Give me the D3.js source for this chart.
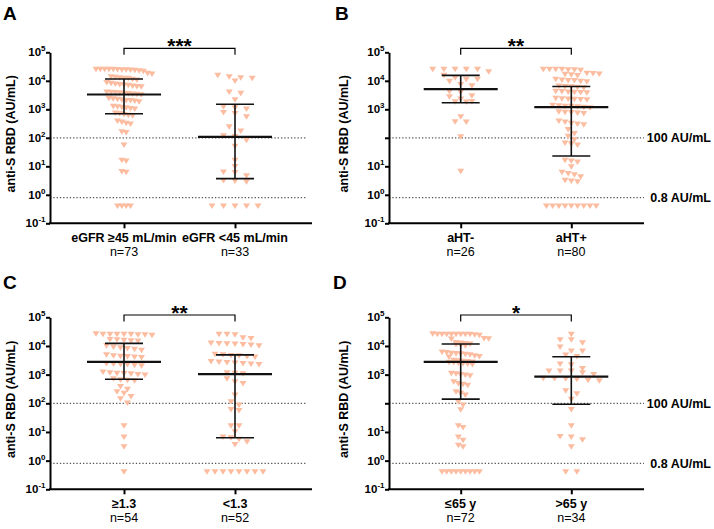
<!DOCTYPE html>
<html><head><meta charset="utf-8">
<script src="https://cdn.jsdelivr.net/npm/d3@7"></script>
<style>
body{margin:0;background:#fff}
svg text{font-family:Arial,"Liberation Sans",Helvetica,sans-serif}
</style>
</head><body>
<svg id="chart" width="714" height="529"></svg>
<script>
// ---------------- DATA ----------------
const panelLetters = ["A", "B", "C", "D"];
const categoriesA = ["eGFR \u226545 mL/min", "eGFR <45 mL/min"];
const categoriesB = ["aHT-", "aHT+"];
const categoriesC = ["\u22651.3", "<1.3"];
const categoriesD = ["\u226465 y", ">65 y"];
const nLabelsA = ["n=73", "n=33"];
const nLabelsB = ["n=26", "n=80"];
const nLabelsC = ["n=54", "n=52"];
const nLabelsD = ["n=72", "n=34"];
const starLabels = ["***", "**", "**", "*"];
const yTitle = "anti-S RBD (AU/mL)";
const yTickValues = [1e5, 1e4, 1e3, 1e2, 1e1, 1e0, 1e-1];
const yTickExponents = ["5", "4", "3", "2", "1", "0", "-1"];
const thresholdValues = [100, 0.8];
const thresholdLabels = ["100 AU/mL", "0.8 AU/mL"];

// anti-S RBD values (AU/mL) per group
const groupA1 = [25000,25000,24000,25000,23000,25000,24500,22000,25000,23500,24000,21000,
  18000,17000,13000,12500,12000,11000,13500,10500,12000,
  7500,7000,8000,6500,6800,7200,6000,8500,6200,
  3800,3600,3400,3500,3300,4000,3200,3700,3900,
  2200,2000,1900,2100,2300,1800,2000,2400,
  1200,1100,1150,1050,1250,1000,
  700,650,600,720,580, 350,320,300,380, 160,150, 55, 16,15, 6.5,6, 0.4,0.4,0.4,0.4];
const groupA2 = [15500,12000,13500,9600,12600,3550,4000,2100,1200,1120,1000,700,750,540,
  240,170,115,108,81,50,16,9.6,6.2,5.9,4.6,3.0,3.1,2.8,0.4,0.4,0.4,0.4,0.4];
const groupB1 = [25000,25000,25000,25000,25000,20500,15500,11200,11000,9500,12600,6600,7200,
  3900,4100,2950,2700,2240,1850,1800,1750,540,360,350,107,6.6];
const groupB2 = [25000,25000,24000,25000,23000,25000,24000,
  17500,16000,18000,15000,17000,16500,
  10500,10000,9500,11000,9000,10000,
  6200,5800,6500,5600,6000,
  4200,3900,4000,3700,4100,3800,
  2300,2200,2100,2400,2250,2150,
  1300,1250,1200,1150,1100,1250,1350,
  780,750,700,800,720, 350,300,320,280,380, 190,140,112,85, 65,60,55,
  15,14,16, 9.5, 6,5.5,5, 3,2.8,3.2,4.2,
  0.4,0.4,0.4,0.4,0.4,0.4,0.4,0.4,0.4];
const groupC1 = [25000,25000,24000,25000,23000,25000,24000,25000,26000,
  16000,15500,16500,15000,14500,
  10000,8000,9000,7500,7000,8500,
  4500,4000,4200,3900,4800,4300,
  2400,2300,2200,2100,2000,2250,
  1100,1050,1000,1150,1200,950,1080,
  700,650,620,600, 380,300,250,220, 170,140,100, 16, 6.6, 3.0, 0.4];
const groupC2 = [25000,24000,25000, 19000,18000,
  11000,12000,10000,11500,10500,12500,11800,
  4500,4200,5000,4000,4600,4800,
  2700,2500,2800,2300,2200,2400,2600,
  1150,1100,1050, 700,550,480, 190,112,85, 60,55, 16,16,10,
  6.5,4.5,3.6,5.5,6.2,
  0.4,0.4,0.4,0.4,0.4,0.4,0.4,0.4];
const groupD1 = [25000,25000,25000,25000,25000,25000,25000,25000,24000,23000,26000,
  18000,17000,17500,
  12000,11000,13000,10000,11500,10500,12500,
  6000,5500,5000,4500,5200,4800,5800,4200,4000,5300,
  3000,2800,2600,2500,2700,2900,3100,2400,2300,2200,2650,
  1100,1000,950,900,1050, 550,480,450,420, 250,220,190, 110,85,58, 16,14,
  6.6,5,3.4,3, 0.4,0.4,0.4,0.4,0.4,0.4,0.4,0.4,0.4];
const groupD2 = [25000,16000,16000,12600,9100,6500,6500,4200,4700,2300,2150,1600,1300,1150,
  1300,1300,1000,740,700,720,620,680,600,210,270,135,60,16,6.5,6.8,5.2,3.0,0.4,0.4];

// median with interquartile range (AU/mL)
const mediansA = [3300, 107];   const lowerA = [700, 3.7];   const upperA = [11500, 1500];
const mediansB = [5100, 1200];  const lowerB = [1700, 23];   const upperB = [15500, 6300];
const mediansC = [2800, 1050];  const lowerC = [690, 6.3];   const upperC = [12300, 4900];
const mediansD = [2800, 850];   const lowerD = [140, 93];    const upperD = [11700, 4200];

// ---------------- LAYOUT ----------------
const panels = [
  {cats: categoriesA, ns: nLabelsA, groups: [groupA1, groupA2], med: mediansA, lo: lowerA, hi: upperA,
   ax: 50, cx: [124, 235], xEnd: 312, dotEnd: 306, yTop: 52.3, yBot: 223.3,
   letterX: 3, letterY: 20, titleX: 15, bracketY: 48.3, right: false},
  {cats: categoriesB, ns: nLabelsB, groups: [groupB1, groupB2], med: mediansB, lo: lowerB, hi: upperB,
   ax: 389, cx: [460.7, 571.3], xEnd: 644, dotEnd: 644, yTop: 52.3, yBot: 223.3,
   letterX: 335, letterY: 20, titleX: 348, bracketY: 48.3, right: true},
  {cats: categoriesC, ns: nLabelsC, groups: [groupC1, groupC2], med: mediansC, lo: lowerC, hi: upperC,
   ax: 50, cx: [124, 235], xEnd: 312, dotEnd: 306, yTop: 317.3, yBot: 489.3,
   letterX: 3, letterY: 289, titleX: 15, bracketY: 315, right: false},
  {cats: categoriesD, ns: nLabelsD, groups: [groupD1, groupD2], med: mediansD, lo: lowerD, hi: upperD,
   ax: 389, cx: [460.7, 571.3], xEnd: 644, dotEnd: 644, yTop: 317.3, yBot: 489.3,
   letterX: 333, letterY: 289, titleX: 348, bracketY: 315, right: true}
];

const svg = d3.select("#chart");
const dotColor = "#fcbca0";
const triW = 7, triH = 5.5;

function swarm(values, y, maxHalf, maxSpacing, binH) {
  const pts = values.map(v => ({v: v, y: y(v)})).sort((a, b) => a.y - b.y);
  const bins = [];
  let cur = null;
  pts.forEach(p => {
    if (!cur || p.y - cur.y0 > binH) { cur = {y0: p.y, items: []}; bins.push(cur); }
    cur.items.push(p);
  });
  const maxN = d3.max(bins, b => b.items.length);
  const sp = maxN > 1 ? Math.min(maxSpacing, 2 * maxHalf / (maxN - 1)) : maxSpacing;
  bins.forEach(b => {
    const n = b.items.length;
    b.items.forEach((p, i) => { p.dx = (i - (n - 1) / 2) * sp; });
  });
  return pts;
}

panels.forEach((P, pi) => {
  const g = svg.append("g");
  const y = d3.scaleLog().domain([0.1, 1e5]).range([P.yBot, P.yTop]);
  const x = d3.scalePoint().domain(P.cats).range(P.cx);

  // panel letter
  g.append("text").attr("x", P.letterX).attr("y", P.letterY)
    .attr("font-size", 19).attr("font-weight", "bold").text(panelLetters[pi]);

  // y title
  const yc = (P.yTop + P.yBot) / 2 - 4;
  g.append("text").attr("transform", `translate(${P.titleX},${yc}) rotate(-90)`)
    .attr("text-anchor", "middle").attr("font-size", 12.5).attr("font-weight", "bold").text(yTitle);

  // threshold dotted lines
  thresholdValues.forEach((tv, ti) => {
    g.append("line").attr("x1", P.ax).attr("x2", P.dotEnd).attr("y1", y(tv)).attr("y2", y(tv))
      .attr("stroke", "#555").attr("stroke-width", 1.2).attr("stroke-dasharray", "1.3,2");
    if (P.right) {
      g.append("text").attr("x", 711).attr("y", y(tv) + 4.5).attr("text-anchor", "end")
        .attr("font-size", 12.5).attr("font-weight", "bold").text(thresholdLabels[ti]);
    }
  });

  // points
  P.groups.forEach((vals, gi) => {
    const pts = swarm(vals, y, 28, 11.5, 5);
    const cx = x(P.cats[gi]);
    g.append("g").selectAll("path").data(pts).join("path")
      .attr("d", d => {
        const px = cx + d.dx, py = d.y;
        return `M${px - triW / 2},${py - triH / 2}L${px + triW / 2},${py - triH / 2}L${px},${py + triH / 2}Z`;
      })
      .attr("fill", dotColor);
  });

  // error bars: median + IQR
  P.cats.forEach((c, gi) => {
    const cx = x(c);
    g.append("line").attr("x1", cx).attr("x2", cx).attr("y1", y(P.lo[gi])).attr("y2", y(P.hi[gi]))
      .attr("stroke", "#111").attr("stroke-width", 1.6);
    [P.lo[gi], P.hi[gi]].forEach(v => {
      g.append("line").attr("x1", cx - 19).attr("x2", cx + 19).attr("y1", y(v)).attr("y2", y(v))
        .attr("stroke", "#111").attr("stroke-width", 1.6);
    });
    g.append("line").attr("x1", cx - 37).attr("x2", cx + 37).attr("y1", y(P.med[gi])).attr("y2", y(P.med[gi]))
      .attr("stroke", "#111").attr("stroke-width", 2.2);
  });

  // y axis
  const yAxis = d3.axisLeft(y).tickValues(yTickValues).tickSize(4).tickSizeOuter(0).tickFormat("");
  const ya = g.append("g").attr("transform", `translate(${P.ax},0)`).call(yAxis);
  ya.selectAll("path,line").attr("stroke", "#000").attr("stroke-width", 2);
  yTickValues.forEach((tv, ti) => {
    if (P.right && tv === 100) return;
    const t = g.append("text").attr("x", P.ax - 4.5).attr("y", y(tv) + 4)
      .attr("text-anchor", "end").attr("font-size", 11.5).attr("font-weight", "bold");
    t.append("tspan").text("10");
    t.append("tspan").attr("dy", -5).attr("font-size", 8).text(yTickExponents[ti]);
  });

  // x axis
  const xAxis = d3.axisBottom(x).tickSize(5).tickSizeOuter(0).tickFormat("");
  const xa = g.append("g").attr("transform", `translate(0,${P.yBot})`).call(xAxis);
  xa.select(".domain").remove();
  xa.selectAll("line").attr("stroke", "#000").attr("stroke-width", 2);
  g.append("line").attr("x1", P.ax - 1).attr("x2", P.xEnd).attr("y1", P.yBot).attr("y2", P.yBot)
    .attr("stroke", "#000").attr("stroke-width", 2);
  P.cats.forEach((c, gi) => {
    g.append("text").attr("x", x(c)).attr("y", P.yBot + 19).attr("text-anchor", "middle")
      .attr("font-size", 12.5).attr("font-weight", "bold").text(c);
    g.append("text").attr("x", x(c)).attr("y", P.yBot + 32.5).attr("text-anchor", "middle")
      .attr("font-size", 12.5).text(P.ns[gi]);
  });

  // significance bracket
  const x1 = x(P.cats[0]), x2 = x(P.cats[1]);
  g.append("path").attr("d", `M${x1},${P.bracketY + 6.5}V${P.bracketY}H${x2}V${P.bracketY + 6.5}`)
    .attr("fill", "none").attr("stroke", "#000").attr("stroke-width", 1.2);
  g.append("text").attr("x", (x1 + x2) / 2).attr("y", P.bracketY + 5).attr("text-anchor", "middle")
    .attr("font-size", 21).attr("font-weight", "bold").text(starLabels[pi]);
});
</script>
</body></html>
